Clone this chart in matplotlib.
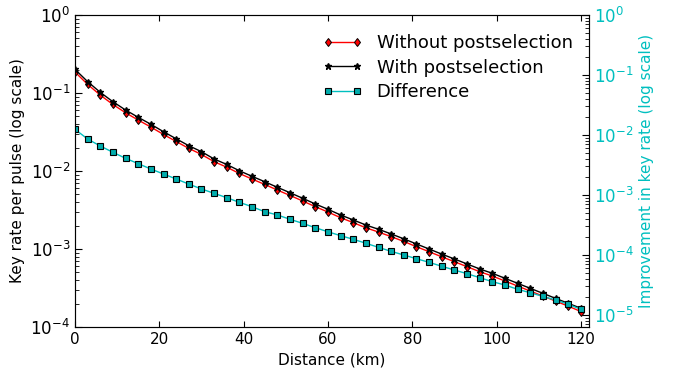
import numpy as np
import matplotlib
matplotlib.use("Agg")
import matplotlib.pyplot as plt

# distance in km, one point every 3 km
distance = list(range(0, 121, 3))

without_post = [0.186, 0.129, 0.094, 0.0713, 0.0558, 0.0450, 0.0366, 0.0294, 0.0239, 0.0195,
                0.0163, 0.01316, 0.01120, 0.00929, 0.00789, 0.00673, 0.00570, 0.00486, 0.00413,
                0.00349, 0.00298, 0.00252, 0.00218, 0.00187, 0.00165, 0.00144, 0.00125, 0.00107,
                0.000923, 0.000794, 0.000688, 0.000593, 0.000512, 0.000450, 0.000389, 0.000335,
                0.000289, 0.000249, 0.000215, 0.000185, 0.000158]

with_post = [0.201, 0.140, 0.102, 0.0773, 0.0605, 0.0488, 0.0397, 0.0319, 0.0259, 0.0211,
             0.0177, 0.01426, 0.01213, 0.01007, 0.00855, 0.00729, 0.00618, 0.00527, 0.00447,
             0.00378, 0.00323, 0.00273, 0.00236, 0.00203, 0.00179, 0.00156, 0.00135, 0.00116,
             0.00100, 0.00086, 0.000745, 0.000643, 0.000555, 0.000488, 0.000421, 0.000363,
             0.000313, 0.000270, 0.000233, 0.000201, 0.000174]

difference = [0.01245, 0.00857, 0.00656, 0.00515, 0.00409, 0.00333, 0.00271, 0.00224, 0.00185,
              0.00152, 0.00126, 0.001067, 0.000902, 0.000755, 0.000638, 0.000527, 0.000465,
              0.000394, 0.000337, 0.000285, 0.000244, 0.000210, 0.000183, 0.000157, 0.000134,
              0.000115, 0.000100, 0.0000867, 0.0000755, 0.0000649, 0.0000562, 0.0000488,
              0.0000419, 0.0000359, 0.0000316, 0.0000268, 0.0000235, 0.0000204, 0.0000178,
              0.0000151, 0.0000124]

teal = (0.0, 0.75, 0.75)

plt.rcParams["xtick.direction"] = "in"
plt.rcParams["ytick.direction"] = "in"
plt.rcParams["xtick.top"] = True
plt.rcParams["xtick.major.size"] = 4
plt.rcParams["ytick.major.size"] = 5
plt.rcParams["ytick.minor.size"] = 3
plt.rcParams["font.size"] = 11

fig = plt.figure(figsize=(6.73, 3.79), dpi=100)
ax = fig.add_axes([0.1114, 0.1372, 0.7636, 0.8232])
ax2 = ax.twinx()

l1, = ax.plot(distance, without_post, color="red", marker="d", markersize=4.5,
              markerfacecolor="red", markeredgecolor="black", markeredgewidth=0.7, lw=1)
l2, = ax.plot(distance, with_post, color="black", marker="*", markersize=5, lw=1)
l3, = ax2.plot(distance, difference, color=teal, marker="s", markersize=4.5,
               markerfacecolor=(0.0, 0.68, 0.68), markeredgecolor="black",
               markeredgewidth=0.8, lw=1)

ax.set_yscale("log")
ax2.set_yscale("log")
ax.set_xlim(0, 121.9)
ax.set_ylim(1e-4, 1)
ax2.set_ylim(10 ** -5.2, 1)

ax.set_xlabel("Distance (km)")
ax.set_ylabel("Key rate per pulse (log scale)")
ax2.set_ylabel("Improvement in key rate (log scale)", color=teal)
ax2.tick_params(axis="y", which="both", colors="black", labelcolor=teal, direction="in")
ax2.tick_params(axis="y", which="major", labelsize=12)
ax.tick_params(axis="y", which="major", labelsize=12)
ax.tick_params(axis="x", labelsize=11)

for sp in ax.spines.values():
    sp.set_color("#555555")

ax.legend([l1, l2, l3], ["Without postselection", "With postselection", "Difference"],
          loc="upper right", frameon=False, fontsize=13, numpoints=2,
          handlelength=2.2, labelspacing=0.35, bbox_to_anchor=(1.0, 0.99))

fig.savefig("out.png", dpi=100)
